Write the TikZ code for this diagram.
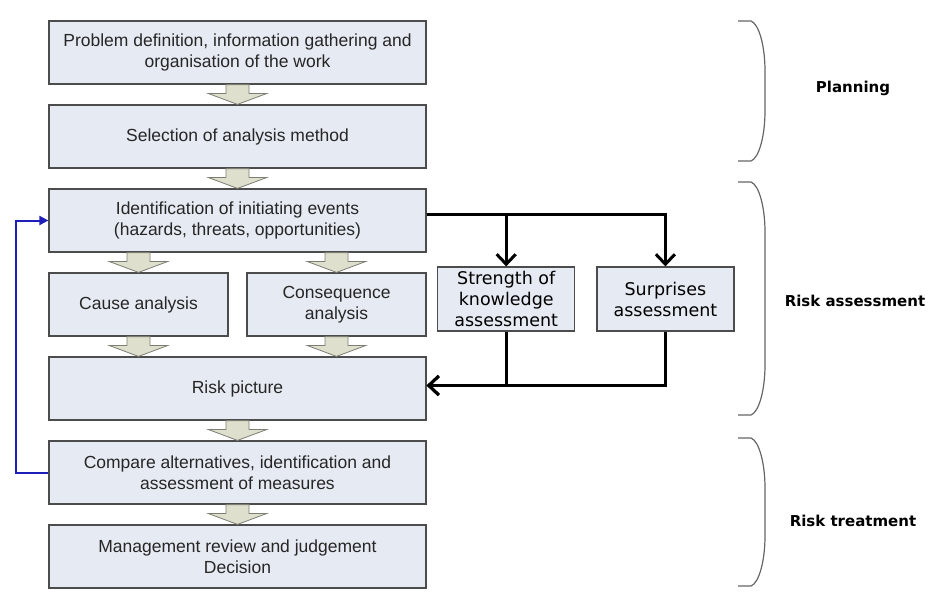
\documentclass[tikz,border=0pt]{standalone}
\usepackage{fontspec}
\setmainfont{Liberation Sans}
\newfontfamily\sidefont{DejaVu Sans}
\usetikzlibrary{positioning,calc,arrows.meta}

\definecolor{boxfill}{RGB}{230,234,242}
\definecolor{arrowfill}{RGB}{222,224,205}
\definecolor{arrowdraw}{RGB}{125,125,115}
\definecolor{loopblue}{RGB}{30,30,185}

% fat block arrow between two vertically aligned points
\newcommand{\fatarrow}[2]{%
	\path[fat] let \p1=(#1), \p2=(#2) in
		(\x1-11.5pt,\y1) -- (\x1+11.5pt,\y1) -- (\x1+11.5pt,\y2+11pt)
		-- (\x1+29.5pt,\y2+11pt) -- (\x1,\y2) -- (\x1-29.5pt,\y2+11pt)
		-- (\x1-11.5pt,\y2+11pt) -- cycle;}

\begin{document}
\begin{tikzpicture}
	[x=1pt, y=-1pt,
		block/.style	={rectangle
									, draw=black!70
									, line width=1.2pt, fill=boxfill
									, minimum width=377pt
									, minimum height=63pt
									, align=center
									, inner sep=0pt
									, text=black!85
									, font=\fontsize{17.5}{20.5}\selectfont
									},
		half/.style		={block
									, minimum width=179pt
									},
		side/.style		={rectangle
									, draw=black!70
									, line width=1.2pt, fill=boxfill
									, minimum width=137pt
									, minimum height=64pt
									, align=center
									, inner sep=0pt
									, font=\sidefont\fontsize{17.5}{21}\selectfont
									},
		fat/.style		={draw=arrowdraw
									, line width=0.8pt
									, fill=arrowfill
									},
		line/.style		={draw
									, line width=3pt
									, -{Straight Barb[length=10pt,width=19pt,line width=3pt]}
									},
		loop/.style		={draw=loopblue
									, line width=2pt
									, -{Triangle[length=9pt,width=9pt]}
									},
		brace/.style	={draw=black!60
									, line width=1.2pt
									},
		phase/.style	={font=\sidefont\bfseries\fontsize{15}{18}\selectfont
									}
	]
\useasboundingbox (0,0) rectangle (939,598);

% main chain
\node [block] (problem) at (237.5,52.5) {Problem definition, information gathering and\\organisation of the work};
\node [block, below=19.8pt of problem] (selection) {Selection of analysis method};
\node [block, below=19.8pt of selection] (initiating) {Identification of initiating events\\(hazards, threats, opportunities)};
\node [half, below=19.8pt of initiating.south west, anchor=north west] (cause) {Cause analysis};
\node [half, below=19.8pt of initiating.south east, anchor=north east] (consequence) {Consequence\\analysis};
\node [block, below=19.8pt of cause.south west, anchor=north west] (riskpicture) {Risk picture};
\node [block, below=19.8pt of riskpicture] (compare) {Compare alternatives, identification and\\assessment of measures};
\node [block, below=19.8pt of compare] (review) {Management review and judgement\\Decision};

% side assessments
\node [side, right=10.5pt of consequence, yshift=5.5pt] (strength) {Strength of\\knowledge\\assessment};
\node [side, right=21pt of strength] (surprises) {Surprises\\assessment};

% block arrows
\fatarrow{problem.south}{selection.north}
\fatarrow{selection.south}{initiating.north}
\fatarrow{initiating.south -| cause.north}{cause.north}
\fatarrow{initiating.south -| consequence.north}{consequence.north}
\fatarrow{cause.south}{cause.south |- riskpicture.north}
\fatarrow{consequence.south}{consequence.south |- riskpicture.north}
\fatarrow{riskpicture.south}{compare.north}
\fatarrow{compare.south}{review.north}

% connectors
\path [line] ([yshift=6pt]initiating.east) -| (strength.north);
\path [line] ([yshift=6pt]initiating.east) -| (surprises.north);
\path [line] (strength.south) |- ([yshift=3pt]riskpicture.east);
\path [line] (surprises.south) |- ([yshift=3pt]riskpicture.east);
\path [loop] (compare.west) -- ([xshift=-32pt]compare.west) |- (initiating.west);

% phases
\foreach \t/\b in {21/161, 182/415, 438/586}
	\path [brace] (738,\t) -- (751,\t) .. controls (759,\t+3) and (765,\t+25) .. (765,\t+50)
		-- (765,\b-50) .. controls (765,\b-25) and (759,\b-3) .. (751,\b) -- (738,\b);
\node [phase] (planning) at (853,88) {Planning};
\node [phase] (assessment) at (855,301) {Risk assessment};
\node [phase] (treatment) at (853,521) {Risk treatment};
\end{tikzpicture}
\end{document}
